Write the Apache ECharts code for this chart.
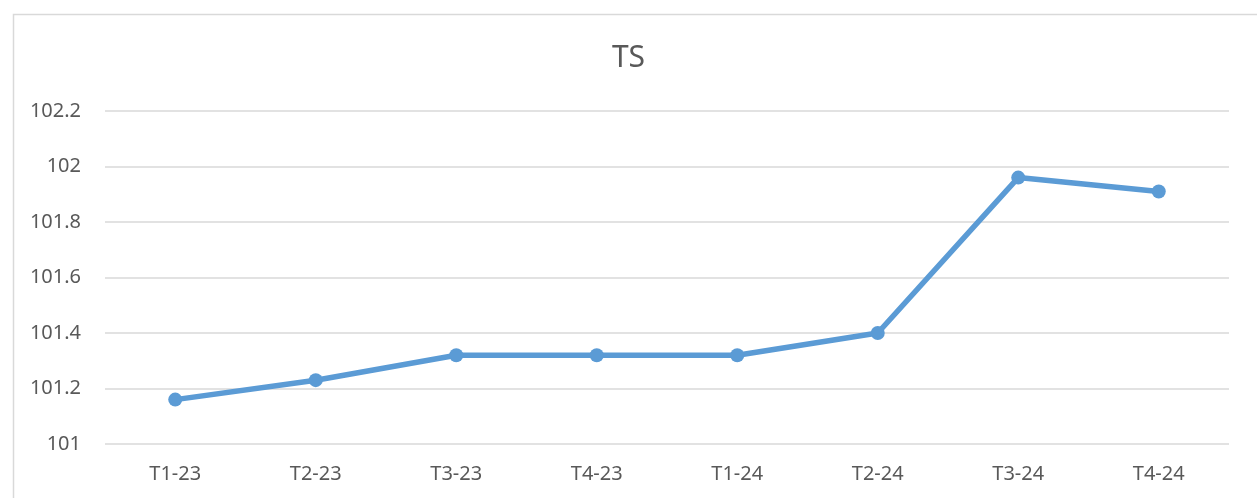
<!DOCTYPE html>
<html>
<head>
<meta charset="utf-8">
<script src="https://cdn.jsdelivr.net/npm/echarts@6/dist/echarts.min.js"></script>
<style>
  html, body { margin: 0; padding: 0; background: #fff; }
  #chart { width: 1257px; height: 498px; }
</style>
</head>
<body>
<div id="chart"></div>
<script>
const categories = ['T1-23', 'T2-23', 'T3-23', 'T4-23', 'T1-24', 'T2-24', 'T3-24', 'T4-24']
const tsValues = [101.16, 101.23, 101.32, 101.32, 101.32, 101.40, 101.96, 101.91]
const yTicks = [101, 102.2, 0.2] // min, max, step

const chart = echarts.init(document.getElementById('chart'))

chart.setOption({
  animation: false,
  textStyle: { fontFamily: 'Noto Sans' },
  // the outer chart frame, runs off the right and bottom of the picture
  graphic: [{
    type: 'rect',
    left: 11,
    top: 12,
    shape: { width: 1400, height: 700 },
    style: { fill: 'none', stroke: '#d9d9d9', lineWidth: 1.5 },
    silent: true
  }],
  title: {
    text: 'TS',
    left: 'center',
    top: 38,
    textStyle: { fontSize: 30, fontWeight: 'normal', color: '#595959', fontFamily: 'Noto Sans' }
  },
  grid: {
    left: 105,
    right: 28,
    top: 111,
    bottom: 54
  },
  xAxis: {
    type: 'category',
    data: categories,
    boundaryGap: true,
    axisLine: { show: false },
    axisTick: { show: false },
    axisLabel: { color: '#595959', fontSize: 20, margin: 20 }
  },
  yAxis: {
    type: 'value',
    min: yTicks[0],
    max: yTicks[1],
    interval: yTicks[2],
    axisLine: { show: false },
    axisTick: { show: false },
    splitLine: { lineStyle: { color: '#d9d9d9', width: 1.5 } },
    axisLabel: {
      color: '#595959',
      fontSize: 20,
      margin: 24,
      formatter: v => String(parseFloat(v.toFixed(1)))
    }
  },
  series: [{
    name: 'TS',
    type: 'line',
    data: tsValues,
    symbol: 'circle',
    symbolSize: 14,
    lineStyle: { color: '#5b9bd5', width: 5.5 },
    itemStyle: { color: '#5b9bd5' }
  }]
})
</script>
</body>
</html>
